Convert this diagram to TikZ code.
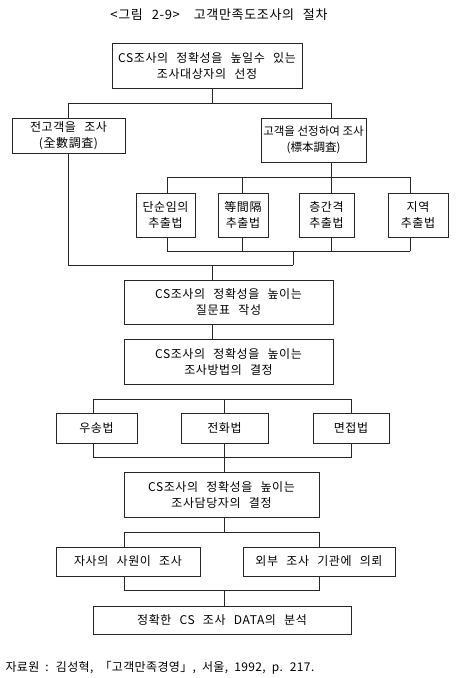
\documentclass[tikz,border=0pt]{standalone}
\usepackage{fontspec}
\setmainfont{Noto Sans CJK KR}
\newfontfamily\krsp{Noto Sans CJK KR}[LetterSpace=5,WordSpace=2.5]
\newfontfamily\krsrc{Noto Sans CJK KR}[LetterSpace=3,WordSpace=2]
\begin{document}
\begin{tikzpicture}[x=1pt,y=-1pt,
  box/.style={draw=black!85,line width=0.8pt,align=center,inner sep=0pt,
    font=\krsp\fontsize{12}{16}\selectfont,text=black},
  ln/.style={draw=black!85,line width=0.8pt}]
\useasboundingbox[fill=white] (0,0) rectangle (458,678);
\node[font=\krsp\fontsize{13}{15}\selectfont,text=black] (title) at (219,15) {<그림 2-9>\hspace{14pt}고객만족도조사의 절차};
% boxes
\node[box,minimum width=190pt,minimum height=45pt] (top) at (207,65.5) {CS조사의 정확성을 높일수 있는\\조사대상자의 선정};
\node[box,minimum width=113pt,minimum height=35pt] (L) at (68.5,135.5) {전고객을 조사\\(全數調査)};
\node[box,minimum width=105pt,minimum height=44pt,font=\fontsize{11.5}{16}\selectfont] (R) at (313.5,140) {고객을 선정하여 조사\\(標本調査)};
\node[box,minimum width=59pt,minimum height=44pt] (b1) at (165.5,215) {단순임의\\추출법};
\node[box,minimum width=50pt,minimum height=44pt] (b2) at (243,215) {等間隔\\추출법};
\node[box,minimum width=55pt,minimum height=44pt] (b3) at (326.5,215) {층간격\\추출법};
\node[box,minimum width=60pt,minimum height=44pt] (b4) at (418,215) {지역\\추출법};
\node[box,minimum width=209pt,minimum height=44pt] (Q) at (228.5,302) {CS조사의 정확성을 높이는\\질문표 작성};
\node[box,minimum width=209pt,minimum height=45pt] (M) at (228.5,361.5) {CS조사의 정확성을 높이는\\조사방법의 결정};
\node[box,minimum width=81pt,minimum height=30pt] (m1) at (96.5,428) {우송법};
\node[box,minimum width=87pt,minimum height=30pt] (m2) at (224.5,428) {전화법};
\node[box,minimum width=76pt,minimum height=30pt] (m3) at (351,428) {면접법};
\node[box,minimum width=195pt,minimum height=45pt] (P) at (221.5,494.5) {CS조사의 정확성을 높이는\\조사담당자의 결정};
\node[box,minimum width=144pt,minimum height=29pt] (p1) at (128,561.5) {자사의 사원이 조사};
\node[box,minimum width=152pt,minimum height=29pt] (p2) at (319,561.5) {외부 조사 기관에 의뢰};
\node[box,minimum width=258pt,minimum height=28pt] (F) at (222,620) {정확한 CS 조사 DATA의 분석};
\node[anchor=west,font=\krsrc\fontsize{12}{15}\selectfont,text=black] (src) at (2,668) {자료원 : 김성혁, 「고객만족경영」, 서울, 1992, p. 217.};
% junction coordinates
\coordinate (j1) at (212,103);
\coordinate (j1l) at (68,103);
\coordinate (j1r) at (331,103);
\coordinate (j2) at (331,177);
\coordinate (j3) at (293,251);
\coordinate (j4) at (293,265);
\coordinate (j4l) at (68,265);
\coordinate (j5) at (212,265);
\coordinate (j6) at (224,399);
\coordinate (j7) at (224,457);
\coordinate (j8) at (224,532);
\coordinate (j9) at (224,590);
% connectors
\draw[ln] (top.south -| j1) -- (j1);
\draw[ln] (j1l) -- (j1r);
\draw[ln] (j1l) -- (L.north -| j1l);
\draw[ln] (j1r) -- (R.north -| j1r);
\draw[ln] (L.south -| j4l) -- (j4l) -- (j4);
\draw[ln] (R.south -| j2) -- (j2);
\draw[ln] (167,177) -- (410,177);
\draw[ln] (167,177) -- (b1.north -| 167,0);
\draw[ln] (242,177) -- (b2.north -| 242,0);
\draw[ln] (j2) -- (b3.north -| j2);
\draw[ln] (410,177) -- (b4.north -| 410,0);
\draw[ln] (b1.south -| 167,0) -- (167,251);
\draw[ln] (b2.south -| 242,0) -- (242,251);
\draw[ln] (b3.south -| 331,0) -- (331,251);
\draw[ln] (b4.south -| 410,0) -- (410,251);
\draw[ln] (167,251) -- (410,251);
\draw[ln] (j3) -- (j4);
\draw[ln] (j5) -- (Q.north -| j5);
\draw[ln] (Q.south -| j5) -- (M.north -| j5);
\draw[ln] (93,399) -- (351,399);
\draw[ln] (93,399) -- (m1.north -| 93,0);
\draw[ln] (j6) -- (m2.north -| j6);
\draw[ln] (351,399) -- (m3.north -| 351,0);
\draw[ln] (m1.south -| 93,0) -- (93,457) -- (351,457) -- (m3.south -| 351,0);
\draw[ln] (m2.south -| j6) -- (j7);
\draw[ln] (j7) -- (P.north -| j7);
\draw[ln] (P.south -| j8) -- (j8);
\draw[ln] (124,532) -- (319,532);
\draw[ln] (124,532) -- (p1.north -| 124,0);
\draw[ln] (319,532) -- (p2.north -| 319,0);
\draw[ln] (p1.south -| 124,0) -- (124,590) -- (319,590) -- (p2.south -| 319,0);
\draw[ln] (j9) -- (F.north -| j9);
\end{tikzpicture}
\end{document}
